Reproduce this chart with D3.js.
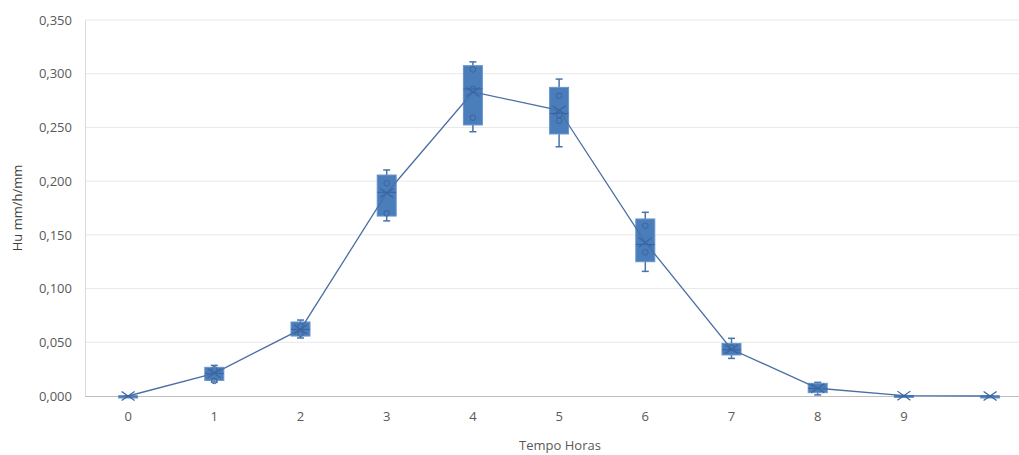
<!DOCTYPE html>
<html><head><meta charset="utf-8">
<script src="https://cdn.jsdelivr.net/npm/d3@7"></script>
<style>body{margin:0;background:#fff}svg{display:block}text{font-family:"Open Sans",sans-serif}</style>
</head><body><svg id="c" width="1019" height="455"></svg>
<script>
const categories = ["0","1","2","3","4","5","6","7","8","9",""];
const whiskerMin = [0, 0.013, 0.054, 0.163, 0.246, 0.232, 0.116, 0.035, 0.001, 0, 0];
const q1 =         [0, 0.0145, 0.0558, 0.1675, 0.2523, 0.2439, 0.125, 0.0382, 0.0031, 0, 0];
const median =     [0, 0.021, 0.062, 0.1896, 0.2858, 0.263, 0.141, 0.043, 0.007, 0, 0];
const q3 =         [0, 0.0267, 0.0689, 0.2057, 0.3075, 0.2873, 0.1648, 0.049, 0.0118, 0.0005, 0];
const whiskerMax = [0, 0.0285, 0.0707, 0.2104, 0.311, 0.295, 0.171, 0.0537, 0.0127, 0.0005, 0];
const mean =       [0, 0.0211, 0.062, 0.189, 0.283, 0.266, 0.143, 0.0435, 0.0072, 0.0003, 0];
const innerPoints = [[], [0.0248, 0.014], [0.065, 0.058], [0.198, 0.170], [0.304, 0.2858, 0.259],
                     [0.2795, 0.2616, 0.2563], [0.1585, 0.1338], [0.045], [], [], []];
const yTicks = [0, 0.05, 0.1, 0.15, 0.2, 0.25, 0.3, 0.35];

const svg = d3.select("#c");
const mLeft = 85, mTop = 20, mBottom = 396, mRight = 1019;
const x = d3.scaleBand().domain(d3.range(categories.length)).range([mLeft, mLeft + 86.2 * categories.length]);
const y = d3.scaleLinear().domain([0, 0.35]).range([mBottom, mTop]);
const fmt = v => d3.format(".3f")(v).replace(".", ",");
const cx = i => x(i) + x.bandwidth() / 2;

// gridlines
svg.append("g").selectAll("line").data(yTicks.filter(d => d > 0)).join("line")
  .attr("x1", mLeft).attr("x2", mRight).attr("y1", d => y(d)).attr("y2", d => y(d))
  .attr("stroke", "#e8e8e8").attr("stroke-width", 1);

// y axis
const ya = svg.append("g").attr("transform", `translate(${mLeft},0)`)
  .call(d3.axisLeft(y).tickValues(yTicks).tickFormat(fmt).tickSize(0).tickPadding(13));
ya.select(".domain").attr("stroke", "#d9d9d9");
ya.selectAll("text").attr("fill", "#595959").attr("font-size", 13).style("font-family", '"Open Sans",sans-serif');

// x axis
const xa = svg.append("g").attr("transform", `translate(0,${mBottom})`)
  .call(d3.axisBottom(x).tickFormat(i => categories[i]).tickSize(0).tickPadding(16));
xa.select(".domain").remove();
xa.selectAll("text").attr("fill", "#595959").attr("font-size", 13).style("font-family", '"Open Sans",sans-serif');
svg.append("line").attr("x1", mLeft).attr("x2", mRight).attr("y1", mBottom + 0.5).attr("y2", mBottom + 0.5)
  .attr("stroke", "#bfbfbf").attr("stroke-width", 1.2);

// titles
svg.append("text").attr("x", 560).attr("y", 450).attr("text-anchor", "middle")
  .attr("fill", "#595959").attr("font-size", 13).text("Tempo Horas");
svg.append("text").attr("transform", `translate(22,${(mTop + mBottom) / 2}) rotate(-90)`)
  .attr("text-anchor", "middle").attr("fill", "#404040").attr("font-size", 13).text("Hu mm/h/mm");

const boxW = 19, capW = 6;
const g = svg.append("g");
const idx = d3.range(categories.length);

// whiskers
const wc = "#4a72ab";
g.selectAll(".wl").data(idx).join("line")
  .attr("x1", cx).attr("x2", cx).attr("y1", i => y(whiskerMax[i])).attr("y2", i => y(whiskerMin[i]))
  .attr("stroke", wc).attr("stroke-width", 1.5);
[whiskerMin, whiskerMax].forEach(arr => {
  g.append("g").selectAll("line").data(idx).join("line")
    .attr("x1", i => cx(i) - capW / 2 - 0.5).attr("x2", i => cx(i) + capW / 2 + 0.5)
    .attr("y1", i => y(arr[i])).attr("y2", i => y(arr[i]))
    .attr("stroke", wc).attr("stroke-width", 1.5);
});

// boxes
g.append("g").selectAll("rect").data(idx).join("rect")
  .attr("x", i => cx(i) - boxW / 2).attr("width", boxW)
  .attr("y", i => y(q3[i])).attr("height", i => Math.max(2, y(q1[i]) - y(q3[i])))
  .attr("fill", "#4a7ebb").attr("stroke", "#6a95cb").attr("stroke-width", 1);

// median
g.append("g").selectAll("line").data(idx).join("line")
  .attr("x1", i => cx(i) - boxW / 2).attr("x2", i => cx(i) + boxW / 2)
  .attr("y1", i => y(median[i])).attr("y2", i => y(median[i]))
  .attr("stroke", "#3a64a0").attr("stroke-width", 1);

// inner points
idx.forEach(i => {
  g.append("g").selectAll("circle").data(innerPoints[i]).join("circle")
    .attr("cx", cx(i)).attr("cy", d => y(d)).attr("r", 2.8)
    .attr("fill", "none").attr("stroke", "#3a64a0").attr("stroke-width", 1);
});

// mean line
svg.append("path").datum(idx)
  .attr("d", d3.line().x(cx).y(i => y(mean[i])))
  .attr("fill", "none").attr("stroke", "#4a6fa5").attr("stroke-width", 1.3);

// mean markers
const m = 6.5;
idx.forEach(i => {
  const px = cx(i), py = y(mean[i]);
  svg.append("path")
    .attr("d", `M${px - m},${py - m * 0.7}L${px + m},${py + m * 0.7}M${px - m},${py + m * 0.7}L${px + m},${py - m * 0.7}`)
    .attr("stroke", "#3a64a0").attr("stroke-width", 1.2).attr("fill", "none");
});
</script></body></html>
